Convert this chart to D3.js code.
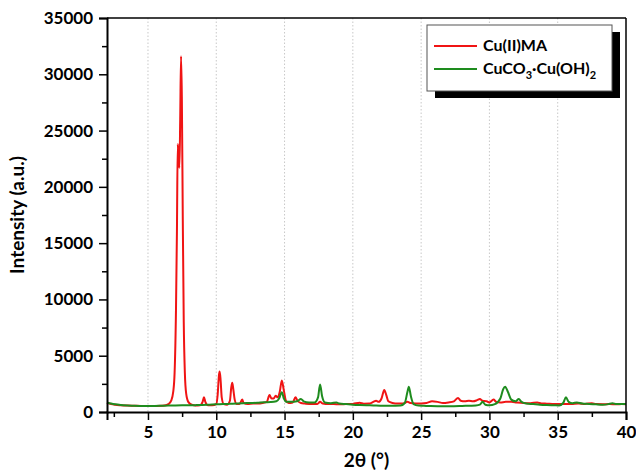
<!DOCTYPE html>
<html>
<head>
<meta charset="utf-8">
<script src="https://cdn.jsdelivr.net/npm/d3@7"></script>
<style>
  html, body { margin: 0; padding: 0; background: #fff; }
  svg { display: block; font-family: Lato, "Open Sans", sans-serif; }
</style>
</head>
<body>
<svg id="chart" width="636" height="474"></svg>
<script>
// XRD patterns: 2θ (degrees) and intensity (a.u.)
const cuMA2theta = [2.0,2.3,2.6,3.0,3.5,4.0,4.5,5.0,5.5,6.0,6.3,6.5,6.7,6.85,6.95,7.05,7.12,7.18,7.24,7.3,7.36,7.42,7.48,7.55,7.62,7.7,7.8,7.95,8.2,8.5,8.8,9.0,9.1,9.2,9.4,9.7,10.0,10.1,10.2,10.25,10.32,10.4,10.55,10.8,11.0,11.1,11.17,11.25,11.35,11.5,11.7,11.9,12.0,12.3,12.7,13.0,13.4,13.7,13.9,14.05,14.2,14.35,14.5,14.65,14.8,14.95,15.1,15.3,15.6,15.8,15.95,16.2,16.5,17.0,17.4,17.6,17.8,18.2,18.6,19.0,19.5,20.0,20.5,20.8,21.2,21.5,21.7,21.9,22.1,22.3,22.45,22.6,22.9,23.3,23.7,24.0,24.2,24.6,25.0,25.4,25.8,26.2,26.6,27.0,27.4,27.7,27.9,28.2,28.5,28.8,29.1,29.3,29.5,29.8,30.0,30.3,30.5,30.8,31.2,31.6,32.0,32.5,33.0,33.5,33.8,34.2,34.6,35.0,35.5,36.0,36.5,37.0,37.5,37.8,38.3,38.8,39.3,39.7,40.0];
const cuMAIntensity = [820,700,640,600,570,550,540,530,540,560,600,700,1000,1800,3500,9000,16000,23800,22500,21700,26000,31600,28000,17000,8000,3500,1600,900,650,580,600,900,1300,900,600,600,700,1500,3300,3600,2800,1300,700,650,1000,2200,2600,2000,1100,700,700,1100,800,700,750,750,800,900,1500,1200,1200,1450,1300,1800,2800,1900,1000,800,850,1300,1000,800,750,700,700,900,750,700,700,680,700,720,820,740,750,900,1000,900,1200,1950,1500,950,800,750,760,900,800,760,760,800,950,900,800,850,950,1250,1000,950,1000,950,1050,1150,1000,950,850,1100,900,850,900,900,850,800,780,850,760,740,720,700,720,720,760,720,780,700,690,700,680,700,690];

const malachite2theta = [2.0,2.3,2.6,3.0,3.5,4.0,4.5,5.0,5.5,6.0,6.5,7.0,7.5,8.0,8.5,9.0,9.5,10.0,10.5,11.0,11.5,12.0,12.5,13.0,13.5,14.0,14.4,14.6,14.8,14.95,15.1,15.5,15.9,16.2,16.4,16.8,17.2,17.45,17.6,17.75,17.95,18.4,18.8,19.0,19.5,20.0,20.5,21.0,21.5,22.0,22.5,23.0,23.5,23.8,24.0,24.1,24.25,24.45,24.8,25.2,25.7,26.2,26.8,27.4,28.0,28.6,29.0,29.3,29.5,29.7,30.0,30.4,30.8,31.0,31.15,31.35,31.6,31.9,32.15,32.35,32.7,33.2,33.7,34.2,34.7,35.1,35.4,35.6,35.8,36.1,36.4,36.8,37.3,37.8,38.3,38.7,39.0,39.3,39.7,40.0];
const malachiteIntensity = [850,750,680,620,580,560,540,530,540,560,570,580,590,600,610,630,650,680,700,730,760,780,800,820,870,880,950,1200,1750,1200,900,900,950,1150,950,850,850,1300,2450,1400,850,780,850,750,700,650,620,600,580,560,550,560,580,800,1800,2250,1400,700,570,550,530,520,520,520,540,560,580,650,900,650,600,700,1200,2000,2250,1800,1100,950,1150,900,750,700,650,620,600,580,800,1300,900,780,850,750,720,680,650,700,780,700,700,700];

const seriesNames = ["Cu(II)MA", "CuCO\u2083\u00B7Cu(OH)\u2082"];
const seriesColors = ["#f01414", "#1e8c1e"];

const xTicks = [5, 10, 15, 20, 25, 30, 35, 40];
const xMinorTicks = [2.5, 7.5, 12.5, 17.5, 22.5, 27.5, 32.5, 37.5];
const yTicks = [0, 5000, 10000, 15000, 20000, 25000, 30000, 35000];
const yMinorTicks = [2500, 7500, 12500, 17500, 22500, 27500, 32500];

const margin = { left: 107, right: 10, top: 18, bottom: 62 };
const W = 636, H = 474;
const svg = d3.select("#chart");
svg.append("rect").attr("width", W).attr("height", H).attr("fill", "#fff");

const x = d3.scaleLinear().domain([2, 40]).range([margin.left, W - margin.right]);
const y = d3.scaleLinear().domain([0, 35000]).range([H - margin.bottom, margin.top]);

// dotted vertical guides at the major 2θ ticks
svg.append("g").selectAll("line").data(xTicks.filter(d => d < 40)).join("line")
  .attr("x1", d => x(d)).attr("x2", d => x(d))
  .attr("y1", y(35000)).attr("y2", y(0))
  .attr("stroke", "#c8c8c8").attr("stroke-width", 1)
  .attr("stroke-dasharray", "1.5,2");

// patterns
const line = d3.line().x(d => x(d[0])).y(d => y(d[1])).curve(d3.curveMonotoneX);
const redPts = d3.zip(cuMA2theta, cuMAIntensity);
const greenPts = d3.zip(malachite2theta, malachiteIntensity);
const plot = svg.append("g");
plot.append("path").datum(redPts).attr("d", line)
  .attr("fill", "none").attr("stroke", seriesColors[0]).attr("stroke-width", 2).attr("stroke-linejoin", "round");
plot.append("path").datum(greenPts).attr("d", line)
  .attr("fill", "none").attr("stroke", seriesColors[1]).attr("stroke-width", 2).attr("stroke-linejoin", "round");

// frame: top and right
svg.append("line").attr("x1", x(2)).attr("x2", x(40)).attr("y1", y(35000)).attr("y2", y(35000))
  .attr("stroke", "#000").attr("stroke-width", 1.5);
svg.append("line").attr("x1", x(40)).attr("x2", x(40)).attr("y1", y(35000)).attr("y2", y(0))
  .attr("stroke", "#000").attr("stroke-width", 1.5);

// axes
const tickFont = g => g.selectAll("text").attr("font-size", 17).attr("font-weight", 700).attr("fill", "#000").attr("font-family", "Lato, sans-serif");

const xAxis = svg.append("g").attr("transform", `translate(0,${y(0)})`)
  .call(d3.axisBottom(x).tickValues(xTicks).tickSize(8).tickPadding(6).tickFormat(d3.format("d")));
xAxis.call(tickFont);
xAxis.select(".domain").attr("stroke-width", 2);
xAxis.selectAll(".tick line").attr("stroke-width", 1.5);
svg.append("g").attr("transform", `translate(0,${y(0)})`)
  .call(d3.axisBottom(x).tickValues(xMinorTicks).tickSize(5).tickFormat(""))
  .call(g => g.select(".domain").remove())
  .selectAll(".tick line").attr("stroke-width", 1.5);

const yAxis = svg.append("g").attr("transform", `translate(${x(2)},0)`)
  .call(d3.axisLeft(y).tickValues(yTicks).tickSize(8).tickPadding(6).tickFormat(d3.format("d")));
yAxis.call(tickFont);
yAxis.select(".domain").attr("stroke-width", 2);
yAxis.selectAll(".tick line").attr("stroke-width", 1.5);
svg.append("g").attr("transform", `translate(${x(2)},0)`)
  .call(d3.axisLeft(y).tickValues(yMinorTicks).tickSize(5).tickFormat(""))
  .call(g => g.select(".domain").remove())
  .selectAll(".tick line").attr("stroke-width", 1.5);

// axis titles
svg.append("text").attr("x", (x(2) + x(40)) / 2).attr("y", 467)
  .attr("text-anchor", "middle").attr("font-size", 19).attr("font-weight", 700)
  .text("2\u03B8 (\u00B0)");
svg.append("text").attr("transform", `translate(24,${(y(0) + y(35000)) / 2}) rotate(-90)`)
  .attr("text-anchor", "middle").attr("font-size", 19).attr("font-weight", 700)
  .text("Intensity (a.u.)");

// legend with drop shadow
const lg = svg.append("g").attr("transform", "translate(427,25)");
const lw = 185, lh = 66;
lg.append("rect").attr("x", 8).attr("y", 7).attr("width", lw).attr("height", lh).attr("fill", "#000");
lg.append("rect").attr("x", 0).attr("y", 0).attr("width", lw).attr("height", lh)
  .attr("fill", "#fff").attr("stroke", "#555").attr("stroke-width", 1);
const rows = [0, 1];
rows.forEach(i => {
  const cy = 21 + i * 23;
  lg.append("line").attr("x1", 7).attr("x2", 50).attr("y1", cy).attr("y2", cy)
    .attr("stroke", seriesColors[i]).attr("stroke-width", 2);
});
lg.append("text").attr("x", 56).attr("y", 26).attr("font-size", 16).attr("font-weight", 700)
  .text(seriesNames[0]);
const t2 = lg.append("text").attr("x", 56).attr("y", 49).attr("font-size", 16).attr("font-weight", 700);
t2.append("tspan").text("CuCO");
t2.append("tspan").attr("dy", 5).attr("font-size", 11).text("3");
t2.append("tspan").attr("dy", -5).text("\u00B7Cu(OH)");
t2.append("tspan").attr("dy", 5).attr("font-size", 11).text("2");
</script>
</body>
</html>
